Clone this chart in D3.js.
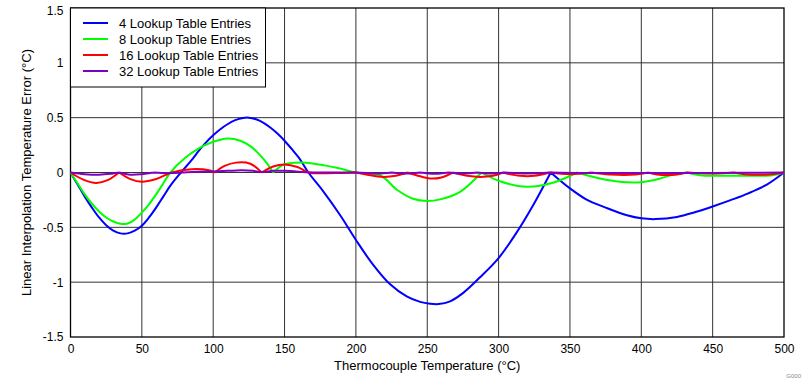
<!DOCTYPE html>
<html>
<head>
<meta charset="utf-8">
<script src="https://cdn.jsdelivr.net/npm/d3@7"></script>
<style>
  body { margin: 0; background: #fff; }
  text { font-family: "Liberation Sans", Arial, sans-serif; }
</style>
</head>
<body>
<div class="chart"></div>
<script>
// tick labels
var xTicks = [0, 50, 100, 150, 200, 250, 300, 350, 400, 450, 500];
var yTicks = [-1.5, -1, -0.5, 0, 0.5, 1, 1.5];

var seriesNames = ['4 Lookup Table Entries', '8 Lookup Table Entries', '16 Lookup Table Entries', '32 Lookup Table Entries'];
var seriesColors = ['#0000ff', '#00ff00', '#ff0000', '#8000c0'];

// [temperature, error]
var entries4 = [[0,0],[5,-0.11],[10,-0.22],[15,-0.32],[20,-0.41],[25,-0.48],[30,-0.53],[35,-0.555],[40,-0.555],[45,-0.53],[50,-0.485],[55,-0.41],[60,-0.32],[65,-0.22],[70,-0.12],[77.4,0],[85,0.115],[90,0.2],[95,0.275],[100,0.34],[105,0.395],[110,0.44],[115,0.475],[120,0.495],[125,0.5],[130,0.485],[135,0.455],[140,0.41],[145,0.355],[150,0.29],[155,0.215],[160,0.135],[166.7,0],[177,-0.17],[189,-0.39],[200,-0.615],[212,-0.84],[224,-1.02],[235.6,-1.13],[245,-1.18],[252,-1.197],[258,-1.2],[266,-1.175],[275,-1.1],[287,-0.955],[300,-0.78],[312,-0.56],[325,-0.28],[336.5,0],[350,-0.145],[362,-0.25],[375,-0.32],[390,-0.39],[400,-0.418],[410,-0.425],[425,-0.405],[438,-0.36],[450,-0.31],[463,-0.25],[475,-0.19],[488,-0.11],[500,0]];
var entries8 = [[0,0],[5,-0.1],[10,-0.2],[15,-0.285],[20,-0.355],[25,-0.41],[30,-0.447],[35,-0.468],[40,-0.465],[45,-0.43],[50,-0.365],[55,-0.29],[60,-0.2],[65,-0.1],[70,0],[80,0.13],[90,0.22],[100,0.28],[110,0.31],[119,0.29],[126,0.24],[132,0.17],[137,0.095],[142,0],[149,0.07],[157,0.088],[165,0.09],[178,0.065],[189,0.036],[200,0],[217,-0.025],[229,-0.16],[240,-0.24],[250,-0.26],[259,-0.245],[273,-0.176],[288,0],[301,-0.08],[320,-0.13],[338,-0.094],[355,0],[371,-0.055],[385,-0.085],[400,-0.088],[412,-0.06],[422,-0.02],[432,0],[441,-0.025],[458,-0.03],[476,-0.03],[492,-0.025],[500,0]];
var entries16 = [[0,0],[9,-0.065],[18,-0.095],[26,-0.07],[34,0],[42,-0.06],[50,-0.085],[60,-0.06],[71,0],[85,0.03],[97,0.02],[101,0],[108,0.06],[116,0.09],[126,0.08],[134,0],[142,0.055],[150,0.073],[159,0.05],[167,0],[185,-0.005],[200,0],[208,-0.02],[219,-0.04],[228,-0.03],[236,0],[245,-0.035],[252,-0.055],[260,-0.045],[268,0],[278,-0.03],[287,-0.04],[296,-0.03],[303,0],[315,-0.03],[325,-0.03],[336,0],[350,-0.015],[365,0],[378,-0.018],[396,-0.018],[405,0],[411,-0.018],[425,-0.018],[432,0],[450,-0.01],[465,0],[474,-0.018],[489,-0.018],[500,0]];
var entries32 = [[0,0],[10,-0.015],[20,-0.02],[28,-0.012],[34,0],[42,-0.02],[50,-0.015],[58,0],[70,-0.005],[85,0.005],[100,0.01],[110,0.015],[120,0.02],[128,0.015],[134,0.005],[142,0.015],[150,0.015],[160,0.008],[167,0],[200,0],[215,-0.01],[225,0],[235,-0.01],[245,0],[255,-0.012],[265,0],[275,-0.01],[285,0],[295,-0.01],[305,0],[320,-0.008],[336,0],[360,-0.005],[400,-0.004],[450,-0.004],[500,0]];

var allSeries = [entries4, entries8, entries16, entries32];

var margin = { top: 8, right: 19, bottom: 45, left: 70.5 };
var width = 803 - margin.left - margin.right;
var height = 382 - margin.top - margin.bottom;

var svg = d3.select('.chart')
  .append('svg')
    .attr('width', 803)
    .attr('height', 382)
  .append('g')
    .attr('transform', `translate(${margin.left}, ${margin.top})`);

var xScale = d3.scaleLinear().domain([0, 500]).range([0, width]);
var yScale = d3.scaleLinear().domain([-1.5, 1.5]).range([height, 0]);

// grid
svg.append('g')
  .selectAll('line')
  .data(xTicks.slice(1, -1))
  .enter().append('line')
    .attr('x1', d => xScale(d)).attr('x2', d => xScale(d))
    .attr('y1', 0).attr('y2', height)
    .attr('stroke', '#333').attr('stroke-width', 1);

svg.append('g')
  .selectAll('line')
  .data(yTicks.slice(1, -1))
  .enter().append('line')
    .attr('x1', 0).attr('x2', width)
    .attr('y1', d => yScale(d)).attr('y2', d => yScale(d))
    .attr('stroke', '#333').attr('stroke-width', 1);

svg.append('rect')
  .attr('width', width).attr('height', height)
  .attr('fill', 'none').attr('stroke', '#000').attr('stroke-width', 1.3);

// axes (labels only)
var xAxis = d3.axisBottom(xScale).tickValues(xTicks).tickSize(0).tickPadding(7).tickFormat(d3.format('d'));
var yAxis = d3.axisLeft(yScale).tickValues(yTicks).tickSize(0).tickPadding(7).tickFormat(d => String(d));

svg.append('g')
  .attr('transform', `translate(0, ${height})`)
  .call(xAxis)
  .call(g => g.select('.domain').remove())
  .selectAll('text').style('font-size', '12px').attr('fill', '#000');

svg.append('g')
  .call(yAxis)
  .call(g => g.select('.domain').remove())
  .selectAll('text').style('font-size', '12px').attr('fill', '#000')
  .attr('y', d => d === 1.5 ? 3 : 0);

// lines: break the path at the table points (zero touches), so the cusps stay sharp
var line = d3.line()
  .x(d => xScale(d[0]))
  .y(d => yScale(d[1]))
  .curve(d3.curveCatmullRom.alpha(0.5));

function splitAtCusps(pts) {
  var out = [], cur = [pts[0]];
  for (var i = 1; i < pts.length; i++) {
    cur.push(pts[i]);
    var isCusp = i < pts.length - 1 && pts[i][1] === 0 &&
      Math.sign(pts[i - 1][1]) === Math.sign(pts[i + 1][1]) && pts[i - 1][1] !== 0;
    if (isCusp) { out.push(cur); cur = [pts[i]]; }
  }
  out.push(cur);
  return out;
}

svg.selectAll('.series')
  .data(allSeries)
  .enter().append('path')
    .attr('class', 'series')
    .attr('d', d => splitAtCusps(d).map(line).join(''))
    .attr('fill', 'none')
    .attr('stroke', (d, i) => seriesColors[i])
    .attr('stroke-width', 2)
    .attr('stroke-linejoin', 'round');

// legend
var legend = svg.append('g');
legend.append('rect')
  .attr('x', 0).attr('y', 0)
  .attr('width', 195).attr('height', 79)
  .attr('fill', '#fff').attr('stroke', '#000').attr('stroke-width', 1);

var item = legend.selectAll('.item')
  .data(seriesNames)
  .enter().append('g')
    .attr('transform', (d, i) => `translate(0, ${15 + i * 16})`);

item.append('line')
  .attr('x1', 12.5).attr('x2', 37.5)
  .attr('stroke', (d, i) => seriesColors[i])
  .attr('stroke-width', 2);

item.append('text')
  .attr('x', 48.5).attr('dy', '0.35em')
  .style('font-size', '13px')
  .text(d => d);

// axis titles
svg.append('text')
  .attr('x', width / 2).attr('y', height + 33)
  .attr('text-anchor', 'middle')
  .style('font-size', '13px')
  .text('Thermocouple Temperature (°C)');

svg.append('text')
  .attr('transform', `translate(-40, ${height / 2}) rotate(-90)`)
  .attr('text-anchor', 'middle')
  .style('font-size', '13px')
  .text('Linear Interpolation Temperature Error (°C)');

svg.append('text')
  .attr('x', width + 17).attr('y', height + 41)
  .attr('text-anchor', 'end')
  .attr('fill', '#888')
  .style('font-size', '6px')
  .text('G000');
</script>
</body>
</html>
